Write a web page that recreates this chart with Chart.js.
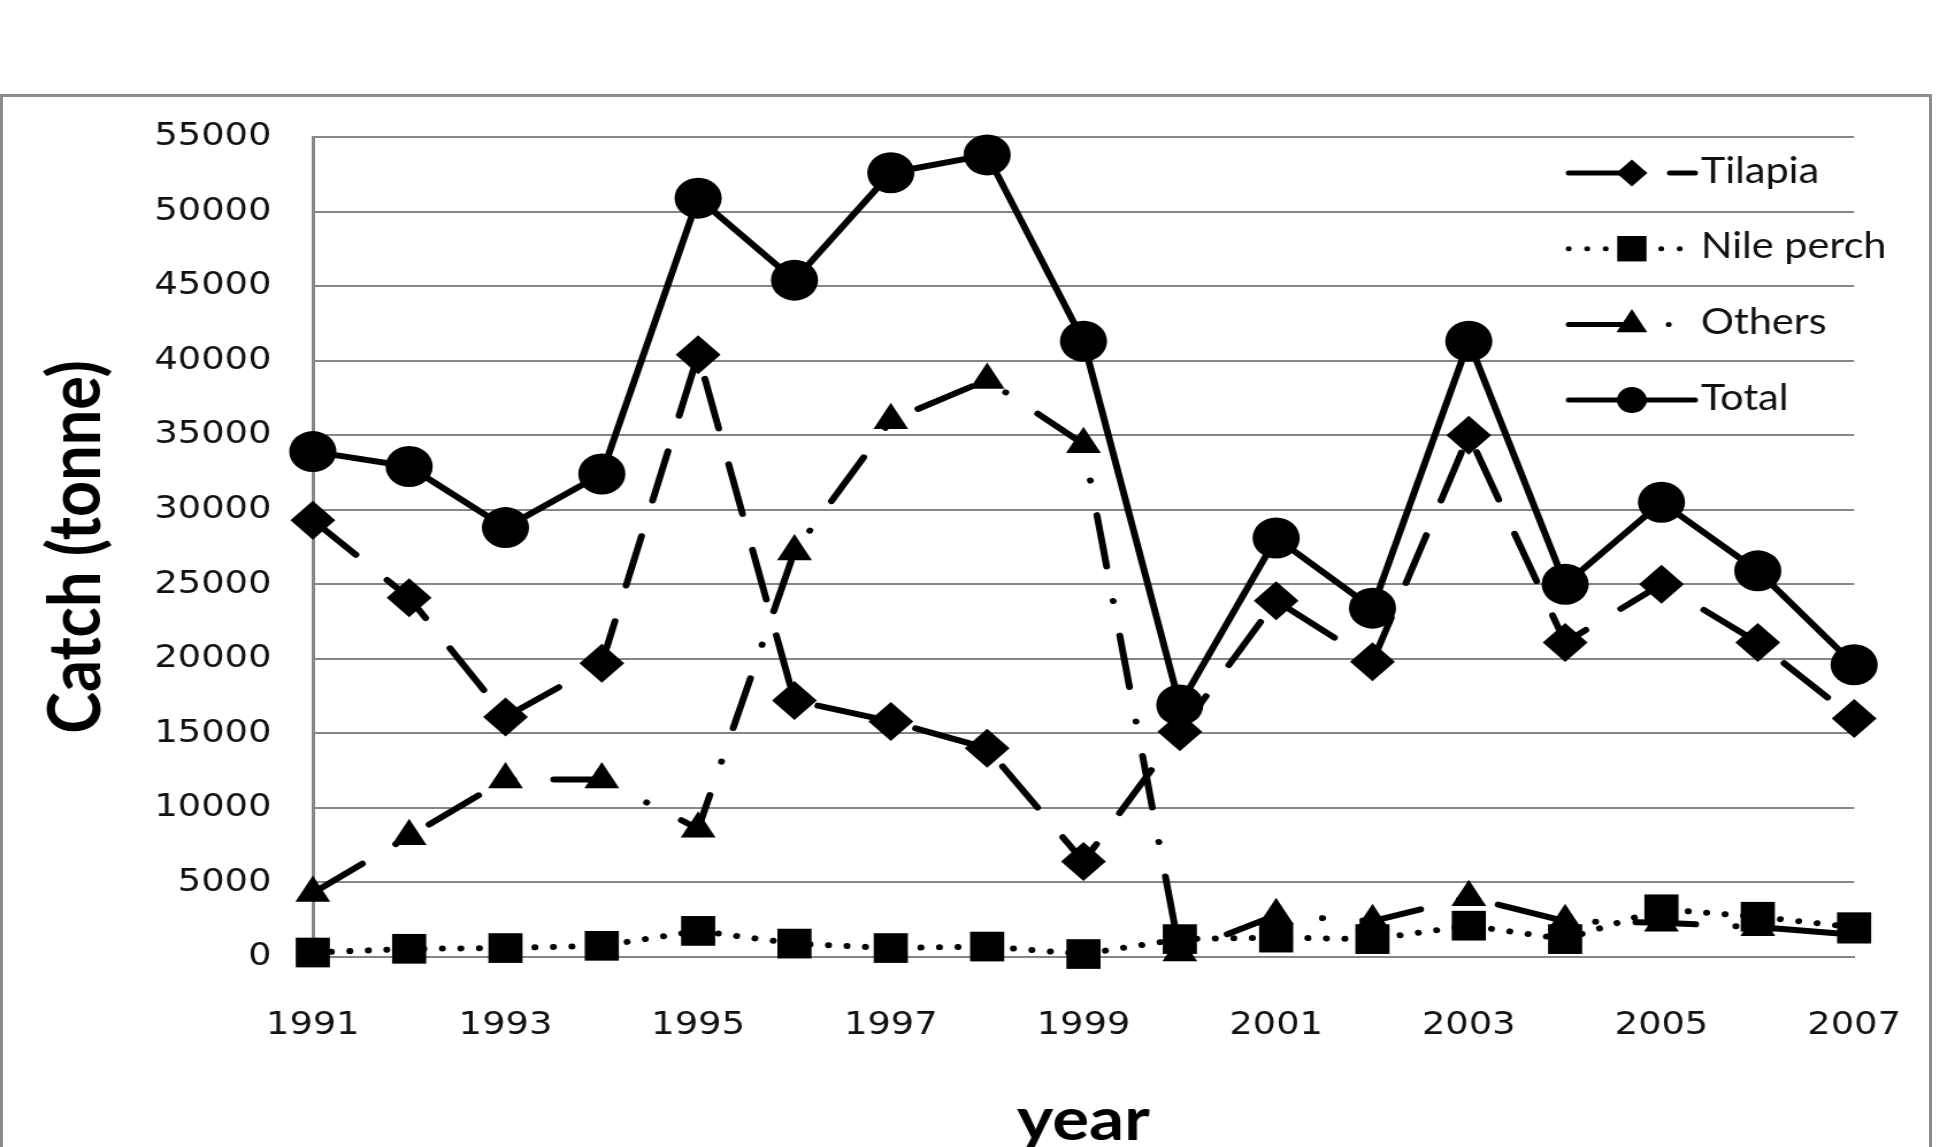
<!DOCTYPE html>
<html>
<head>
<meta charset="utf-8">
<title>Catch (tonne) 1991-2007</title>
<script src="https://cdn.jsdelivr.net/npm/chart.js@4.4.1/dist/chart.umd.min.js"></script>
<style>
    body { margin: 0; background: #fff; overflow: hidden; width: 1938px; height: 1147px; position: relative; }
    #marco { position: absolute; left: 0; top: 94px; width: 1932px; height: 1200px; border: 3px solid #8c8c8c; box-sizing: border-box; }
    /* the original figure is stretched sideways, so the whole canvas is too */
    #grafico { position: absolute; left: 0; top: 0; transform: scaleX(1.15); transform-origin: 0 0; }
</style>
</head>
<body>
<div id="marco"></div>
<canvas id="grafico" width="1702" height="1170"></canvas>
<script>
const years = ['1991', '1992', '1993', '1994', '1995', '1996', '1997', '1998', '1999',
               '2000', '2001', '2002', '2003', '2004', '2005', '2006', '2007'];

const tilapia   = [29300, 24100, 16100, 19700, 40400, 17200, 15800, 14000, 6400, 15100, 23900, 19800, 35000, 21100, 25000, 21100, 16000];
const nilePerch = [300, 550, 600, 750, 1750, 900, 600, 700, 200, 1200, 1300, 1200, 2100, 1200, 3200, 2700, 2000];
const others    = [4300, 8100, 11900, 11900, 8600, 27200, 36000, 38700, 34400, 300, 2800, 2400, 4000, 2400, 2300, 2000, 1500];
const total     = [33900, 32900, 28800, 32400, 50900, 45400, 52600, 53800, 41300, 16900, 28100, 23400, 41300, 25000, 30500, 25900, 19600];

const yMin = 0;
const yMax = 55000;
const yStep = 5000;

const gris = '#868686';
const legendX0 = 1364;
const legendX1 = 1474;
const legendText = 1479;
const legendTop = 173;
const legendStep = 75.7;
const legendRadius = [13.5, 18, 15.5, 13];

function serie(label, data, dash, estilo, radio, orden) {
    return {
        label,
        data,
        borderColor: '#000',
        backgroundColor: '#000',
        borderWidth: 6,
        borderDash: dash,
        borderCapStyle: 'round',
        borderJoinStyle: 'round',
        pointStyle: estilo,
        pointRadius: radio,
        pointHoverRadius: radio,
        pointBackgroundColor: '#000',
        pointBorderWidth: 0,
        tension: 0,
        fill: false,
        clip: false,
        order: orden
    };
}

function dibujarMarcador(ctx, estilo, x, y, r) {
    ctx.fillStyle = '#000';
    ctx.beginPath();
    if (estilo === 'circle') {
        ctx.arc(x, y, r, 0, Math.PI * 2);
    } else if (estilo === 'rect') {
        const s = r * Math.SQRT1_2;
        ctx.rect(x - s, y - s, 2 * s, 2 * s);
    } else if (estilo === 'rectRot') {
        ctx.moveTo(x - r, y);
        ctx.lineTo(x, y - r);
        ctx.lineTo(x + r, y);
        ctx.lineTo(x, y + r);
        ctx.closePath();
    } else if (estilo === 'triangle') {
        ctx.moveTo(x, y - r);
        ctx.lineTo(x + r * 0.866, y + r / 2);
        ctx.lineTo(x - r * 0.866, y + r / 2);
        ctx.closePath();
    }
    ctx.fill();
}

// Excel-like legend: dashed line sample with the marker in the middle
const leyenda = {
    id: 'leyenda',
    afterDatasetsDraw(chart) {
        const ctx = chart.ctx;
        ctx.save();
        chart.data.datasets.forEach((ds, i) => {
            const y = legendTop + i * legendStep;
            ctx.strokeStyle = '#000';
            ctx.lineWidth = 5;
            ctx.lineCap = 'round';
            ctx.setLineDash(ds.borderDash);
            ctx.beginPath();
            ctx.moveTo(legendX0, y);
            ctx.lineTo(legendX1, y);
            ctx.stroke();
            ctx.setLineDash([]);
            dibujarMarcador(ctx, ds.pointStyle, (legendX0 + legendX1) / 2, y, legendRadius[i]);
            ctx.fillStyle = '#111';
            ctx.font = '36px Lato';
            ctx.textBaseline = 'middle';
            ctx.textAlign = 'left';
            ctx.fillText(ds.label, legendText, y - 2);
        });
        ctx.restore();
    }
};

const fuenteTicks = { family: 'DejaVu Sans', size: 32 };

new Chart(document.getElementById('grafico'), {
    type: 'line',
    data: {
        labels: years,
        datasets: [
            serie('Tilapia', tilapia, [51, 37], 'rectRot', 19.5, 3),
            serie('Nile perch', nilePerch, [0.1, 16], 'rect', 21, 2),
            serie('Others', others, [52, 35, 0.1, 35], 'triangle', 17.5, 1),
            serie('Total', total, [], 'circle', 20.5, 0)
        ]
    },
    options: {
        responsive: false,
        animation: false,
        layout: { padding: { top: 137, right: 0, left: 0, bottom: 0 } },
        plugins: {
            legend: { display: false },
            tooltip: { enabled: false }
        },
        scales: {
            x: {
                grid: { display: false, drawTicks: false },
                border: { display: true, color: gris, width: 2 },
                ticks: {
                    autoSkip: false,
                    maxRotation: 0,
                    padding: 49,
                    color: '#111',
                    font: fuenteTicks,
                    callback: (v, i) => i % 2 === 0 ? years[i] : ''
                },
                title: {
                    display: true,
                    text: 'year',
                    color: '#000',
                    font: { family: 'Lato', size: 60, weight: 'bold' },
                    padding: { top: 0, bottom: 13 }
                },
                afterFit: s => { s.height = 213; }
            },
            y: {
                min: yMin,
                max: yMax,
                grid: { color: gris, lineWidth: 2, drawTicks: false },
                border: { color: gris, width: 3 },
                ticks: {
                    stepSize: yStep,
                    padding: 36,
                    color: '#111',
                    font: fuenteTicks,
                    callback: v => v
                },
                title: {
                    display: true,
                    text: 'Catch (tonne)',
                    color: '#000',
                    font: { family: 'Lato', size: 63, weight: 'bold' },
                    padding: { top: 29, bottom: 0 }
                },
                afterFit: s => { s.width = 272; }
            }
        }
    },
    plugins: [leyenda]
});
</script>
</body>
</html>
